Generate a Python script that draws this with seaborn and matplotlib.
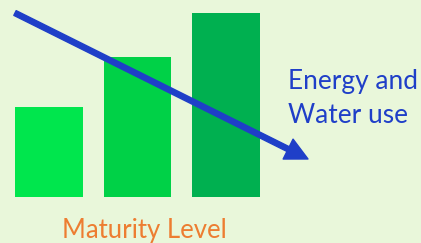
import numpy as np
import pandas as pd
from matplotlib import pyplot as plt
import seaborn as sns

# values (relative bar heights)
levels = ['Low', 'Medium', 'High']
heights = [90, 140, 184]
bar_colors = ['#00e64d', '#00d147', '#00b050']

label_usage = ['Energy and', 'Water use']
label_axis = 'Maturity Level'

bg = '#e9f7da'
blue = '#1f3fc8'
orange = '#ed7d31'

df = pd.DataFrame({'level': levels, 'height': heights})

sns.set_theme(style='white')
plt.rcParams['font.family'] = ['Lato', 'DejaVu Sans']

fig = plt.figure(figsize=(4.21, 2.43), dpi=100, facecolor=bg)
ax = fig.add_axes([0, 0, 1, 1])
ax.set_facecolor(bg)

sns.barplot(data=df, x='level', y='height', hue='level', palette=bar_colors,
            width=0.77, legend=False, saturation=1, ax=ax)
for p in ax.patches:
    p.set_edgecolor('none')

# map categories/heights so the bars sit where they are in the picture
scale = 88.3
ax.set_xlim(-49.2 / scale, -49.2 / scale + 421 / scale)
ax.set_ylim(-45.7, 243 - 45.7)
ax.axis('off')

# falling arrow for energy and water use
ax.annotate('', xy=(308 / 421, 1 - 159 / 243), xytext=(15 / 421, 1 - 13 / 243),
            xycoords='figure fraction', textcoords='figure fraction',
            arrowprops=dict(arrowstyle='simple,head_length=16,head_width=16,tail_width=3.8',
                            mutation_scale=1, color=blue, shrinkA=0, shrinkB=0))

fig.text(288 / 421, 1 - 89.3 / 243, label_usage[0], color=blue, fontsize=18.9, va='baseline')
fig.text(288 / 421, 1 - 123.3 / 243, label_usage[1], color=blue, fontsize=18.9, va='baseline')
fig.text(144.5 / 421, 1 - 238.3 / 243, label_axis, color=orange, fontsize=18.5,
         ha='center', va='baseline')

fig.savefig('out.png', dpi=100, facecolor=bg)
